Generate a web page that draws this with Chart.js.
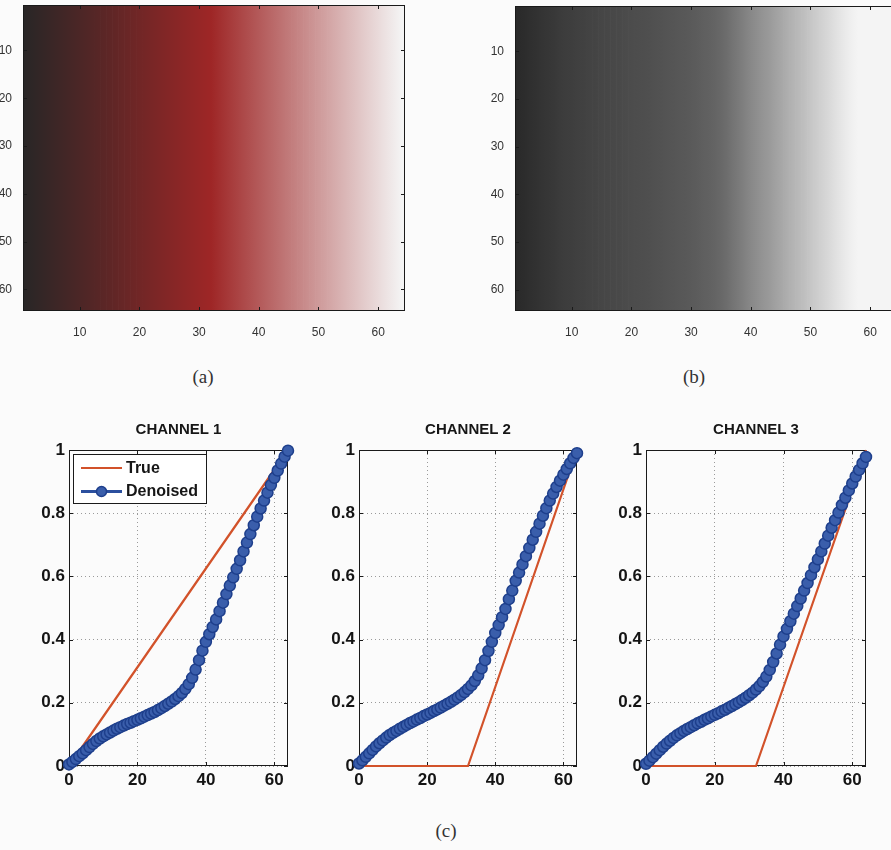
<!DOCTYPE html>
<html>
<head>
<meta charset="utf-8">
<title>Channel profiles</title>
<script src="https://cdn.jsdelivr.net/npm/chart.js@4.4.1/dist/chart.umd.min.js"></script>
<style>
  html, body { margin: 0; padding: 0; background: #fbfbfb; }
  body { position: relative; width: 891px; height: 850px; overflow: hidden; }
  canvas { position: absolute; }
  .cap {
    position: absolute;
    font-family: "Liberation Serif", "DejaVu Serif", serif;
    font-size: 19px;
    color: #333;
    transform: translate(-50%, -50%);
    white-space: nowrap;
  }
</style>
</head>
<body>
<canvas id="imgTrue" width="425" height="340" style="left:0px;top:0px"></canvas>
<canvas id="imgDenoised" width="420" height="340" style="left:490px;top:0px"></canvas>
<canvas id="ch1" width="295" height="395" style="left:10px;top:405px"></canvas>
<canvas id="ch2" width="295" height="395" style="left:300px;top:405px"></canvas>
<canvas id="ch3" width="295" height="395" style="left:587px;top:405px"></canvas>
<div class="cap" style="left:203px;top:377px">(a)</div>
<div class="cap" style="left:694px;top:377px">(b)</div>
<div class="cap" style="left:446px;top:831px">(c)</div>

<script>
// Pixel column positions along the gradient (0 .. 64)
const xs = [0,1,2,3,4,5,6,7,8,9,10,11,12,13,14,15,16,17,18,19,20,21,22,23,24,25,26,27,28,29,30,31,32,
            33,34,35,36,37,38,39,40,41,42,43,44,45,46,47,48,49,50,51,52,53,54,55,56,57,58,59,60,61,62,63,64];
// Image columns 1 .. 64
const columns = xs.slice(1);

// Tick values and labels
const imageTicks = [10, 20, 30, 40, 50, 60];
const curveXTicks = [0, 20, 40, 60];
const curveYTicks = [0, 0.2, 0.4, 0.6, 0.8, 1];
const curveYLabels = ['0', '0.2', '0.4', '0.6', '0.8', '1'];

// Ground-truth intensity profile (breakpoints)
const trueX   = [0, 32, 64];
const trueCh1 = [0, 0.5, 1];
const trueCh2 = [0, 0, 1];
const trueCh3 = [0, 0, 1];

// Denoised intensity profile, one value per column position in xs
const denoisedCh1 = [0.005,0.013,0.022,0.031,0.040,0.050,0.060,0.070,0.079,0.087,0.094,0.100,0.106,0.112,0.118,0.123,0.128,
  0.133,0.137,0.142,0.146,0.151,0.156,0.161,0.166,0.171,0.177,0.183,0.190,0.197,0.204,0.212,0.221,
  0.231,0.244,0.259,0.279,0.305,0.335,0.365,0.393,0.417,0.440,0.464,0.490,0.517,0.544,0.571,0.597,
  0.624,0.651,0.679,0.707,0.734,0.762,0.789,0.815,0.840,0.865,0.889,0.912,0.935,0.957,0.979,0.998];
const denoisedCh2 = [0.008,0.018,0.029,0.040,0.051,0.062,0.072,0.081,0.090,0.098,0.105,0.111,0.118,0.124,0.130,0.136,0.141,
  0.147,0.152,0.158,0.163,0.168,0.174,0.179,0.185,0.191,0.197,0.203,0.210,0.217,0.225,0.234,0.244,
  0.255,0.269,0.287,0.309,0.335,0.364,0.393,0.421,0.446,0.471,0.497,0.528,0.555,0.586,0.612,0.638,
  0.664,0.690,0.716,0.741,0.767,0.792,0.816,0.840,0.862,0.883,0.903,0.922,0.940,0.958,0.975,0.990];
const denoisedCh3 = [0.007,0.017,0.028,0.039,0.050,0.061,0.071,0.080,0.089,0.097,0.104,0.111,0.117,0.123,0.129,0.135,0.140,
  0.146,0.151,0.157,0.162,0.167,0.173,0.178,0.184,0.190,0.196,0.202,0.209,0.216,0.224,0.232,0.242,
  0.253,0.266,0.283,0.304,0.329,0.356,0.384,0.410,0.434,0.458,0.482,0.506,0.530,0.555,0.579,0.604,
  0.629,0.654,0.679,0.704,0.729,0.754,0.778,0.802,0.826,0.849,0.872,0.894,0.916,0.937,0.958,0.978];

const channelTitles = ['CHANNEL 1', 'CHANNEL 2', 'CHANNEL 3'];
const seriesNames = ['True', 'Denoised'];

// ---- styling ----
const SANS = '"Liberation Sans", Arial, Helvetica, sans-serif';
const TRUE_COLOR = '#d2522a';
const DEN_LINE = '#2b4f9e';
const DEN_FILL = '#3a5eab';
const DEN_EDGE = '#1e3f8c';

// Display intensity (printed figure: black is lifted, highlights saturate)
function shade(v) { return Math.min(244, Math.round(38 + 240 * v)); }
function rgb(r, g, b) { return 'rgb(' + shade(r) + ',' + shade(g) + ',' + shade(b) + ')'; }
// Grey level of an RGB triple (used for the denoised image, shown in grey)
function grey(r, g, b) { const m = (r + g + b) / 3; return rgb(m, m, m); }

// Keep the plot box exactly where the fixed axis sizes put it
function fixAxis(s, size) {
  if (s.isHorizontal()) s.height = size; else s.width = size;
  s.paddingTop = 0; s.paddingBottom = 0; s.paddingLeft = 0; s.paddingRight = 0;
}

// Axes box with inward tick marks on all four sides
const framePlugin = {
  id: 'frame',
  beforeDatasetsDraw(chart, args, opts) { if (!opts.onTop) drawFrame(chart, opts); },
  afterDatasetsDraw(chart, args, opts) { if (opts.onTop) drawFrame(chart, opts); }
};
function drawFrame(chart, opts) {
  const { ctx, chartArea: a, scales } = chart;
  const len = opts.tick || 4;
  const L = Math.round(a.left), T = Math.round(a.top), R = Math.round(a.right), B = Math.round(a.bottom);
  ctx.save();
  ctx.strokeStyle = opts.color || '#1a1a1a';
  ctx.lineWidth = 1;
  ctx.beginPath();
  scales.x.ticks.forEach(t => {
    const p = Math.round(scales.x.getPixelForValue(t.value)) + 0.5;
    ctx.moveTo(p, B); ctx.lineTo(p, B - len);
    ctx.moveTo(p, T); ctx.lineTo(p, T + len);
  });
  scales.y.ticks.forEach(t => {
    const p = Math.round(scales.y.getPixelForValue(t.value)) + 0.5;
    ctx.moveTo(L, p); ctx.lineTo(L + len, p);
    ctx.moveTo(R, p); ctx.lineTo(R - len, p);
  });
  ctx.stroke();
  ctx.lineWidth = opts.width || 1;
  ctx.strokeRect(L + 0.5, T + 0.5, R - L - 1, B - T - 1);
  ctx.restore();
}

// Axes heading centred over the plot box
const headingPlugin = {
  id: 'heading',
  afterDraw(chart, args, opts) {
    if (!opts.text) return;
    const { ctx, chartArea: a } = chart;
    ctx.save();
    ctx.font = 'bold 15px ' + SANS;
    ctx.fillStyle = '#161616';
    ctx.textAlign = 'center';
    ctx.textBaseline = 'middle';
    ctx.fillText(opts.text, (a.left + a.right) / 2, a.top - opts.gap);
    ctx.restore();
  }
};

// Boxed legend in the upper-left corner of the plot
const boxLegendPlugin = {
  id: 'boxLegend',
  afterDraw(chart, args, opts) {
    if (!opts.show) return;
    const { ctx, chartArea: a } = chart;
    const ds = chart.data.datasets;
    const bx = Math.round(a.left + 3.5) + 0.5, by = Math.round(a.top + 4) + 0.5;
    ctx.save();
    ctx.fillStyle = '#ffffff';
    ctx.fillRect(bx, by, 133, 49);
    ctx.strokeStyle = '#1a1a1a';
    ctx.lineWidth = 1;
    ctx.strokeRect(bx, by, 133, 49);
    ctx.font = 'bold 16px ' + SANS;
    ctx.textBaseline = 'middle';
    const rows = [a.top + 18, a.top + 41.5];
    [0, 1].forEach((di, r) => {
      const d = ds[di];
      const y = rows[r];
      ctx.strokeStyle = d.borderColor;
      ctx.lineWidth = Math.min(d.borderWidth, 3);
      ctx.beginPath();
      ctx.moveTo(a.left + 12, y); ctx.lineTo(a.left + 53, y);
      ctx.stroke();
      if (d.pointRadius > 0) {
        ctx.beginPath();
        ctx.arc(a.left + 32.5, y, 5, 0, Math.PI * 2);
        ctx.fillStyle = d.pointBackgroundColor;
        ctx.fill();
        ctx.lineWidth = d.pointBorderWidth;
        ctx.strokeStyle = d.pointBorderColor;
        ctx.stroke();
      }
      ctx.fillStyle = '#161616';
      ctx.textAlign = 'left';
      ctx.fillText(d.label, a.left + 57, y + 0.5);
    });
    ctx.restore();
  }
};

// ---- gradient images drawn as one floating bar per column ----
function imageChart(id, stopX, colourAt, box) {
  const span = stopX[stopX.length - 1] - stopX[0];
  const fill = (c) => {
    const chart = c.chart;
    if (!chart.chartArea) return 'rgba(0,0,0,0)';
    const sx = chart.scales.x;
    const grad = chart.ctx.createLinearGradient(sx.getPixelForValue(stopX[0]), 0,
                                                sx.getPixelForValue(stopX[stopX.length - 1]), 0);
    stopX.forEach((x, i) => grad.addColorStop((x - stopX[0]) / span, colourAt(i)));
    return grad;
  };
  const tickFont = { family: SANS, size: 12 };
  return new Chart(document.getElementById(id), {
    type: 'bar',
    data: {
      datasets: [{
        data: columns.map(c => ({ x: c, y: [0.5, 64.5] })),
        backgroundColor: fill,
        borderWidth: 0,
        borderSkipped: false,
        barPercentage: 1.12,
        categoryPercentage: 1
      }]
    },
    options: {
      responsive: false,
      animation: false,
      events: [],
      layout: { padding: { top: box.top, right: box.right, left: 0, bottom: 0 } },
      plugins: {
        legend: { display: false },
        tooltip: { enabled: false },
        frame: { onTop: true, tick: 4, color: '#1a1a1a' }
      },
      scales: {
        x: {
          type: 'linear', min: 0.5, max: 64.5, offset: false,
          afterFit: s => fixAxis(s, box.bottom),
          afterBuildTicks: s => { s.ticks = imageTicks.map(v => ({ value: v })); },
          grid: { display: false, offset: false },
          border: { display: false },
          ticks: { font: tickFont, color: '#333', padding: 6, maxRotation: 0, autoSkip: false,
                   callback: v => String(v) }
        },
        y: {
          type: 'linear', reverse: true, min: 0.5, max: 64.5,
          afterFit: s => fixAxis(s, box.left),
          afterBuildTicks: s => { s.ticks = imageTicks.map(v => ({ value: v })); },
          grid: { display: false },
          border: { display: false },
          ticks: { font: tickFont, color: '#333', padding: 3, autoSkip: false,
                   callback: v => String(v) }
        }
      }
    },
    plugins: [framePlugin]
  });
}

// ---- channel profile plots ----
function curveChart(id, idx, trueVals, denVals, box) {
  const tickFont = { family: SANS, size: 17, weight: 'bold' };
  return new Chart(document.getElementById(id), {
    type: 'scatter',
    data: {
      datasets: [
        {
          label: seriesNames[0],
          data: trueX.map((x, i) => ({ x: x, y: trueVals[i] })),
          showLine: true, borderColor: TRUE_COLOR, borderWidth: 2.2,
          pointRadius: 0, tension: 0, order: 1, clip: false
        },
        {
          label: seriesNames[1],
          data: xs.map((x, i) => ({ x: x, y: denVals[i] })),
          showLine: true, borderColor: DEN_LINE, borderWidth: 7,
          pointRadius: 5.5, pointBorderWidth: 1.5,
          pointBackgroundColor: DEN_FILL, pointBorderColor: DEN_EDGE,
          tension: 0, order: 0, clip: false
        }
      ]
    },
    options: {
      responsive: false,
      animation: false,
      events: [],
      layout: { padding: { top: box.top, right: box.right, left: 0, bottom: 0 } },
      plugins: {
        legend: { display: false },
        tooltip: { enabled: false },
        frame: { onTop: false, tick: 4, color: '#1a1a1a' },
        heading: { text: channelTitles[idx], gap: 20 },
        boxLegend: { show: idx === 0 }
      },
      scales: {
        x: {
          type: 'linear', min: 0, max: 64,
          afterFit: s => fixAxis(s, box.bottom),
          afterBuildTicks: s => { s.ticks = curveXTicks.map(v => ({ value: v })); },
          grid: { color: '#9a9a9a', lineWidth: 1, drawTicks: false },
          border: { display: false, dash: [1, 3] },
          ticks: { font: tickFont, color: '#141414', padding: 4, maxRotation: 0, autoSkip: false,
                   callback: v => String(v) }
        },
        y: {
          type: 'linear', min: 0, max: 1,
          afterFit: s => fixAxis(s, box.left),
          afterBuildTicks: s => { s.ticks = curveYTicks.map(v => ({ value: v })); },
          grid: { color: '#9a9a9a', lineWidth: 1, drawTicks: false },
          border: { display: false, dash: [1, 3] },
          ticks: { font: tickFont, color: '#141414', padding: 4, autoSkip: false,
                   callback: (v, i) => curveYLabels[i] }
        }
      }
    },
    plugins: [framePlugin, headingPlugin, boxLegendPlugin]
  });
}

// (a) ground-truth colour image, (b) denoised image
imageChart('imgTrue', trueX, i => rgb(trueCh1[i], trueCh2[i], trueCh3[i]),
           { left: 23, right: 20, top: 5, bottom: 29 });
imageChart('imgDenoised', xs, i => grey(denoisedCh1[i], denoisedCh2[i], denoisedCh3[i]),
           { left: 25, right: 13, top: 6, bottom: 29 });

// (c) per-channel profiles
curveChart('ch1', 0, trueCh1, denoisedCh1, { left: 59, right: 17, top: 45, bottom: 34 });
curveChart('ch2', 1, trueCh2, denoisedCh2, { left: 59, right: 18, top: 45, bottom: 34 });
curveChart('ch3', 2, trueCh3, denoisedCh3, { left: 59, right: 16, top: 45, bottom: 34 });
</script>
</body>
</html>
